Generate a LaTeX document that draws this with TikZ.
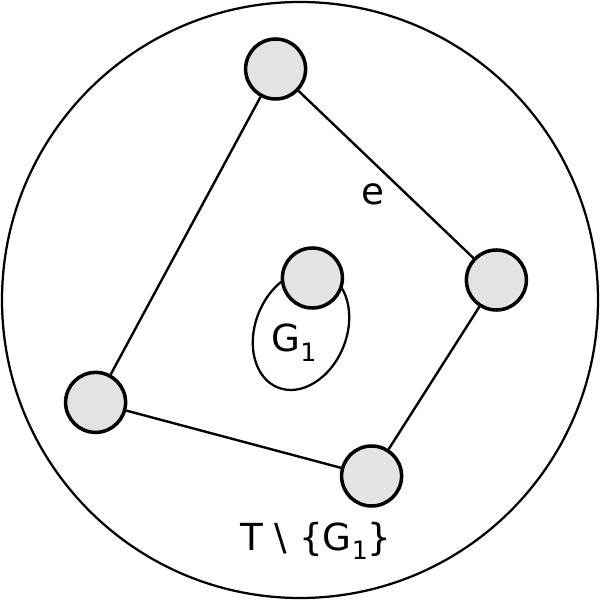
\documentclass[tikz,border=0pt]{standalone}
\usepackage{fontspec}
\setmainfont{DejaVu Sans}
\usetikzlibrary{positioning}
\newcommand{\lowsub}[1]{\raisebox{-7pt}{\fontsize{18}{18}\selectfont #1}}

\begin{document}
\begin{tikzpicture}
        \tikzset{
            vertex/.style = {circle, line width=2.5pt, minimum size=1.5cm, inner sep=0pt, draw=black, fill=black!11},
            edge/.style = {line width=1.7pt},
            lbl/.style = {inner sep=0pt, anchor=base west, font=\fontsize{26.5}{30}\selectfont}
        }
        \useasboundingbox (0,0) rectangle (15,15);
        \node (world) [circle, line width=1.6pt, draw=black, minimum size=14.9cm, inner sep=0pt] at (7.5,7.5) {};

        \draw [line width=1.6pt, rotate around={68:(7.525,6.75)}] (7.525,6.75) ellipse (1.55cm and 1.14cm);

        \node (top) [vertex] at (6.89,13.275) {};
        \node (right) [vertex] at (12.41,8.0) {};
        \node (bottom) [vertex] at (9.29,3.1) {};
        \node (left) [vertex] at (2.39,4.94) {};
        \node (g1) [vertex] at (7.81,8.05) {};

        \draw [edge] (top) -- (right);
        \draw [edge] (right) -- (bottom);
        \draw [edge] (bottom) -- (left);
        \draw [edge] (left) -- (top);

        \node (elabel) [lbl] at (9.03,9.875) {e};
        \node (g1label) [lbl] at (6.78,6.2) {G\lowsub{1}};
        \node (tlabel) [lbl] at (6.0,1.25) {T \textbackslash{} \{G\lowsub{1}\}};

    \end{tikzpicture}
\end{document}
